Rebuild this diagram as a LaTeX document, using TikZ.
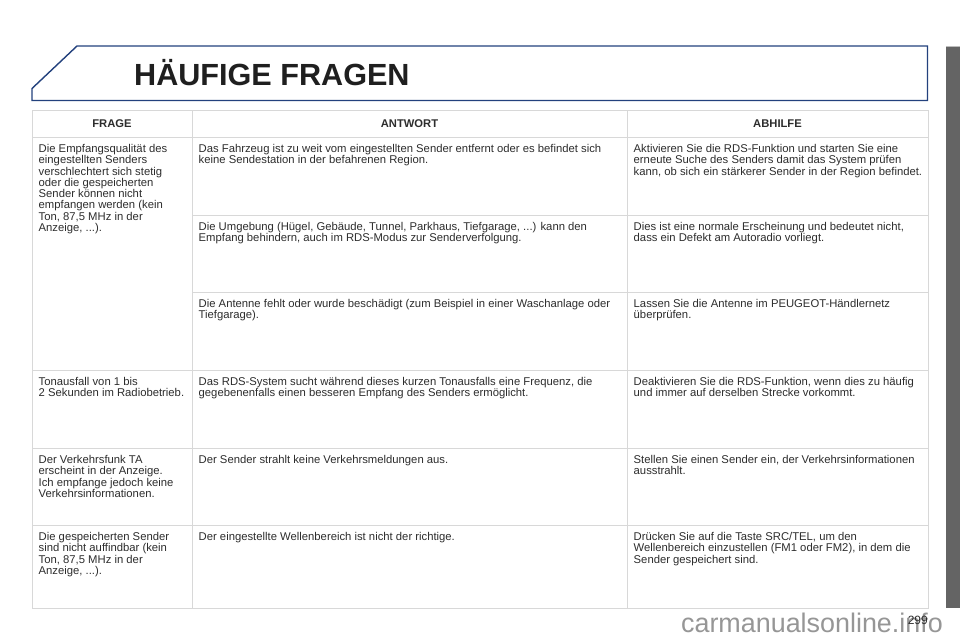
\documentclass[tikz,border=0pt]{standalone}
\usepackage{fontspec}
\setmainfont{Liberation Sans}
\definecolor{framegrey}{RGB}{216,216,216}
\definecolor{titleblue}{RGB}{35,65,125}
\definecolor{tabgrey}{RGB}{100,100,100}
\definecolor{inkgrey}{RGB}{45,45,45}
\definecolor{markgrey}{RGB}{150,150,150}
\tikzset{
  celltext/.style={anchor=north west,inner sep=0pt,align=left,text=inkgrey,font=\fontsize{11.28}{11.32}\selectfont},
  headtext/.style={inner sep=0pt,text=inkgrey,font=\fontsize{11.2}{13}\selectfont\bfseries},
  gridline/.style={draw=framegrey,line width=1pt}
}
\begin{document}
\begin{tikzpicture}[x=1pt,y=-1pt]
          \useasboundingbox (0,0) rectangle (960,640);
          \fill[white] (0,0) rectangle (960,640);
          % side tab
          \fill[tabgrey] (946,46) rectangle (960,608);
          \draw[framegrey!70!gray,line width=0.75pt] (946,46) -- (960,46);
          % title frame
          \draw[titleblue,line width=1.4pt] (77,46) -- (927.5,46) -- (927.5,100.5) -- (32,100.5) -- (32,88.5) -- cycle;
          \node[anchor=base west,inner sep=0pt,text=black!88,font=\fontsize{30.6}{34}\selectfont\bfseries] (title) at (134,85.5) {HÄUFIGE FRAGEN};
          % table
          \draw[gridline] (32,110.5) rectangle (928.5,608);
          \draw[gridline] (192.5,110.5) -- (192.5,608);
          \draw[gridline] (627,110.5) -- (627,608);
          \foreach \yy in {137.5,370.5,448,525.5} \draw[gridline] (32,\yy) -- (928.5,\yy);
          \foreach \yy in {215,292.5} \draw[gridline] (192.5,\yy) -- (928.5,\yy);
          % heads
          \node[headtext] (frage) at (112,123.5) {FRAGE};
          \node[headtext] (antwort) at (409.5,123.5) {ANTWORT};
          \node[headtext] (abhilfe) at (777.5,123.5) {ABHILFE};
          % first column
          \node[celltext] (qa) at (38.5,144) {Die Empfangsqualität des\\eingestellten Senders\\verschlechtert sich stetig\\oder die gespeicherten\\Sender können nicht\\empfangen werden (kein\\Ton, 87,5 MHz in der\\Anzeige, ...).};
          \node[celltext] (qb) at (38.5,377) {Tonausfall von 1 bis\\2 Sekunden im Radiobetrieb.};
          \node[celltext] (qc) at (38.5,455) {Der Verkehrsfunk TA\\erscheint in der Anzeige.\\Ich empfange jedoch keine\\Verkehrsinformationen.};
          \node[celltext] (qd) at (38.5,532) {Die gespeicherten Sender\\sind nicht auffindbar (kein\\Ton, 87,5 MHz in der\\Anzeige, ...).};
          % second column
          \node[celltext] (aa) at (198.5,144) {Das Fahrzeug ist zu weit vom eingestellten Sender entfernt oder es befindet sich\\keine Sendestation in der befahrenen Region.};
          \node[celltext] (ab) at (198.5,222) {Die Umgebung (Hügel, Gebäude, Tunnel, Parkhaus, Tiefgarage, ...) kann den\\Empfang behindern, auch im RDS-Modus zur Senderverfolgung.};
          \node[celltext] (ac) at (198.5,299) {Die Antenne fehlt oder wurde beschädigt (zum Beispiel in einer Waschanlage oder\\Tiefgarage).};
          \node[celltext] (ad) at (198.5,377) {Das RDS-System sucht während dieses kurzen Tonausfalls eine Frequenz, die\\gegebenenfalls einen besseren Empfang des Senders ermöglicht.};
          \node[celltext] (ae) at (198.5,455) {Der Sender strahlt keine Verkehrsmeldungen aus.};
          \node[celltext] (af) at (198.5,532) {Der eingestellte Wellenbereich ist nicht der richtige.};
          % third column
          \node[celltext] (ra) at (633.5,144) {Aktivieren Sie die RDS-Funktion und starten Sie eine\\erneute Suche des Senders damit das System prüfen\\kann, ob sich ein stärkerer Sender in der Region befindet.};
          \node[celltext] (rb) at (633.5,222) {Dies ist eine normale Erscheinung und bedeutet nicht,\\dass ein Defekt am Autoradio vorliegt.};
          \node[celltext] (rc) at (633.5,299) {Lassen Sie die Antenne im PEUGEOT-Händlernetz\\überprüfen.};
          \node[celltext] (rd) at (633.5,377) {Deaktivieren Sie die RDS-Funktion, wenn dies zu häufig\\und immer auf derselben Strecke vorkommt.};
          \node[celltext] (re) at (633.5,455) {Stellen Sie einen Sender ein, der Verkehrsinformationen\\ausstrahlt.};
          \node[celltext] (rf) at (633.5,532) {Drücken Sie auf die Taste SRC/TEL, um den\\Wellenbereich einzustellen (FM1 oder FM2), in dem die\\Sender gespeichert sind.};
          % footer
          \node[anchor=base east,inner sep=0pt,text=markgrey,font=\fontsize{26.9}{30}\selectfont] (mark) at (943,632) {carmanualsonline.info};
          \node[anchor=base east,inner sep=0pt,text=inkgrey,font=\fontsize{12}{14}\selectfont] (page) at (928,624) {299};
        \end{tikzpicture}
\end{document}
